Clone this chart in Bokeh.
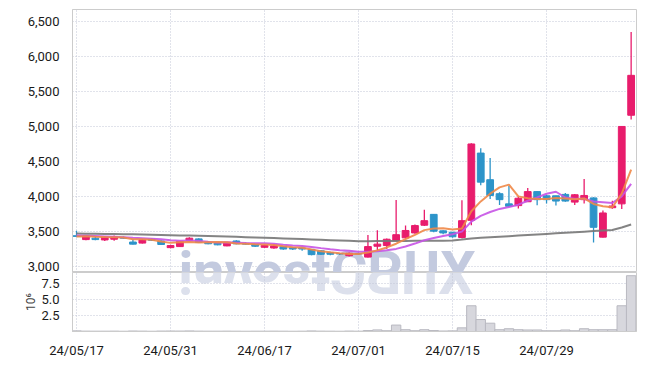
from bokeh.plotting import figure
from bokeh.layouts import column
from bokeh.models import FixedTicker, NumeralTickFormatter, Range1d, Label
from bokeh.core.properties import value
from bokeh.embed import file_html
from bokeh.resources import INLINE
import math

# ---------------- data ----------------
tick_index = [0, 10, 20, 30, 40, 50]
tick_labels = ["24/05/17", "24/05/31", "24/06/17", "24/07/01", "24/07/15", "24/07/29"]

opens = [3440, 3385, 3405, 3380, 3390, 3415, 3350, 3335, 3390, 3365,
         3270, 3285, 3375, 3395, 3345, 3335, 3295, 3365, 3330, 3315,
         3275, 3265, 3285, 3270, 3265, 3245, 3225, 3200, 3185, 3155,
         3185, 3135, 3290, 3300, 3375, 3410, 3480, 3590, 3745, 3510,
         3490, 3415, 3660, 4620, 4240, 4040, 3895, 3870, 3925, 4070,
         4010, 4010, 4030, 3920, 3955, 3980, 3420, 3840, 3895, 5160]
highs = [3510, 3450, 3430, 3435, 3445, 3430, 3385, 3390, 3400, 3375,
         3310, 3365, 3420, 3405, 3360, 3345, 3350, 3375, 3345, 3320,
         3310, 3325, 3290, 3280, 3270, 3250, 3235, 3210, 3195, 3200,
         3200, 3450, 3520, 3400, 3950, 3585, 3600, 3810, 3745, 3520,
         3495, 3945, 4760, 4690, 4550, 4060, 4155, 4000, 4120, 4075,
         4025, 4010, 4050, 4035, 4250, 3990, 3800, 3940, 5000, 6350]
lows = [3420, 3375, 3375, 3365, 3370, 3400, 3315, 3330, 3365, 3310,
        3260, 3280, 3370, 3335, 3320, 3305, 3290, 3320, 3315, 3280,
        3265, 3255, 3240, 3235, 3225, 3160, 3165, 3160, 3165, 3145,
        3170, 3130, 3230, 3250, 3360, 3400, 3470, 3580, 3490, 3460,
        3410, 3400, 3590, 4160, 3965, 3880, 3850, 3830, 3920, 3875,
        3900, 3870, 3925, 3880, 3900, 3345, 3415, 3825, 3820, 5100]
closes = [3430, 3440, 3385, 3420, 3425, 3405, 3320, 3380, 3375, 3315,
          3300, 3360, 3405, 3345, 3325, 3310, 3345, 3325, 3320, 3290,
          3300, 3295, 3250, 3250, 3250, 3170, 3175, 3175, 3180, 3190,
          3180, 3285, 3320, 3390, 3455, 3515, 3585, 3655, 3505, 3480,
          3425, 3655, 4750, 4205, 4015, 3955, 3860, 3975, 4070, 3955,
          3955, 3935, 3935, 4025, 4015, 3560, 3765, 3865, 5000, 5730]

ma_short = [3430, 3432, 3425, 3422, 3420, 3415, 3391, 3390, 3381, 3359,
            3338, 3346, 3351, 3345, 3347, 3349, 3346, 3330, 3325, 3318,
            3316, 3306, 3291, 3277, 3269, 3243, 3219, 3204, 3190, 3178,
            3180, 3202, 3231, 3273, 3326, 3393, 3453, 3520, 3543, 3548,
            3530, 3544, 3790, 3930, 4040, 4130, 4170, 4002, 3975, 3963,
            3963, 3978, 3970, 3961, 3973, 3894, 3860, 3846, 4041, 4384]
ma_mid = [3445, 3440, 3435, 3430, 3425, 3418, 3410, 3404, 3398, 3390,
          3377, 3369, 3371, 3363, 3353, 3344, 3346, 3341, 3335, 3333,
          3333, 3326, 3311, 3301, 3294, 3280, 3263, 3248, 3234, 3224,
          3212, 3211, 3218, 3232, 3252, 3287, 3328, 3376, 3408, 3437,
          3462, 3499, 3642, 3723, 3779, 3823, 3851, 3883, 3939, 3987,
          4040, 4068, 3986, 3968, 3968, 3929, 3919, 3908, 4001, 4179]
ma_long = [3472, 3470, 3468, 3466, 3464, 3462, 3460, 3457, 3454, 3451,
           3448, 3445, 3442, 3439, 3436, 3432, 3428, 3424, 3420, 3416,
           3412, 3407, 3402, 3397, 3392, 3387, 3382, 3377, 3372, 3367,
           3362, 3362, 3363, 3364, 3365, 3366, 3367, 3368, 3369, 3370,
           3372, 3385, 3400, 3410, 3418, 3426, 3434, 3442, 3450, 3458,
           3466, 3474, 3482, 3490, 3498, 3506, 3514, 3522, 3558, 3600]

volume_millions = [0.10, 0.06, 0.05, 0.05, 0.06, 0.04, 0.08, 0.06, 0.04, 0.07,
                   0.08, 0.07, 0.09, 0.06, 0.05, 0.05, 0.06, 0.05, 0.04, 0.05,
                   0.05, 0.06, 0.05, 0.04, 0.05, 0.09, 0.06, 0.05, 0.04, 0.07,
                   0.05, 0.15, 0.25, 0.12, 1.00, 0.28, 0.12, 0.28, 0.15, 0.08,
                   0.10, 0.57, 4.00, 1.86, 1.29, 0.28, 0.43, 0.28, 0.24, 0.24,
                   0.12, 0.12, 0.24, 0.12, 0.43, 0.28, 0.28, 0.28, 4.00, 8.67]

price_ticks = [3000, 3500, 4000, 4500, 5000, 5500, 6000, 6500]
volume_ticks = [2.5, 5.0, 7.5]
watermark = "investCRUX"

# ---------------- styling ----------------
FONT = "Roboto"
UP = "#E81C6C"
DOWN = "#2D94C9"
GRID = "#c3c6d6"
FRAME = "#cccccc"
TXT = "#1a1a1a"

idx = list(range(len(closes)))
colors = [UP if c >= o else DOWN for o, c in zip(opens, closes)]
body_top = [max(o, c) for o, c in zip(opens, closes)]
body_bot = [min(o, c) for o, c in zip(opens, closes)]

xr = Range1d(-0.43, 59.57)
P_LO, P_HI = 2915, 6670
V_HI = 9.17

p = figure(width=637, height=272, x_range=xr, y_range=Range1d(P_LO, P_HI),
           output_backend="svg", toolbar_location=None,
           min_border_left=72, min_border_right=1, min_border_top=9, min_border_bottom=0)
p.xaxis.visible = False
p.outline_line_color = FRAME
p.xgrid.ticker = FixedTicker(ticks=tick_index)
p.yaxis.ticker = FixedTicker(ticks=price_ticks)
p.yaxis.formatter = NumeralTickFormatter(format="0,0")
for g in (p.xgrid, p.ygrid):
    g.grid_line_color = GRID
    g.grid_line_dash = "1 2"
    g.grid_line_width = 1
p.yaxis.axis_line_color = FRAME
p.yaxis.major_tick_line_color = None
p.yaxis.minor_tick_line_color = None
p.yaxis.major_label_standoff = 7
p.yaxis.major_label_text_font = FONT
p.yaxis.major_label_text_font_size = "13px"
p.yaxis.major_label_text_color = TXT

# watermark (behind the candles), its baseline on the panel's lower edge
WM_SIZE = "56px"
wm_x = 10.85
wm = Label(x=wm_x, y=P_LO + 10, x_units="data", y_units="data", text=watermark,
           text_font=FONT, text_font_size=WM_SIZE, text_font_style="bold",
           text_color="#c3cadf", text_align="left", text_baseline="alphabetic",
           level="underlay")
p.add_layout(wm)

# candles
p.segment(x0=idx, y0=lows, x1=idx, y1=highs, line_color=colors, line_width=1.3)
p.vbar(x=idx, width=0.72, top=body_top, bottom=body_bot,
       fill_color=colors, line_color=colors, line_width=1)

# moving averages
p.line(idx, ma_long, line_color="#777777", line_width=2, line_alpha=0.9)
p.line(idx, ma_mid, line_color="#C653E6", line_width=2, line_alpha=0.9)
p.line(idx, ma_short, line_color="#F08848", line_width=2, line_alpha=0.9)

# ---------------- volume panel ----------------
v = figure(width=637, height=88, x_range=xr, y_range=Range1d(0, V_HI),
           output_backend="svg", toolbar_location=None,
           min_border_left=72, min_border_right=1, min_border_top=0, min_border_bottom=22)
v.outline_line_color = FRAME
v.xaxis.ticker = FixedTicker(ticks=tick_index)
v.xaxis.major_label_overrides = {t: lab for t, lab in zip(tick_index, tick_labels)}
v.yaxis.ticker = FixedTicker(ticks=volume_ticks)
v.yaxis.formatter = NumeralTickFormatter(format="0.0")
v.xgrid.ticker = FixedTicker(ticks=tick_index)
for g in (v.xgrid, v.ygrid):
    g.grid_line_color = GRID
    g.grid_line_dash = "1 2"
    g.grid_line_width = 1
for ax in (v.xaxis, v.yaxis):
    ax.axis_line_color = FRAME
    ax.major_tick_line_color = None
    ax.minor_tick_line_color = None
    ax.major_label_text_font = FONT
    ax.major_label_text_color = TXT
v.xaxis.major_label_text_font_size = "13px"
v.xaxis.major_label_standoff = 5
v.yaxis.major_label_text_font_size = "13px"
v.yaxis.major_label_standoff = 7
v.yaxis.axis_label = "10\u2076"
v.yaxis.axis_label_text_font = FONT
v.yaxis.axis_label_text_font_style = "normal"
v.yaxis.axis_label_text_font_size = "12px"
v.yaxis.axis_label_text_color = "#444444"
v.yaxis.axis_label_standoff = 0

# mirrored watermark reflection (each glyph turned upside down)
char_w = {"i": 14.4, "n": 31.1, "v": 27.9, "e": 29.7, "s": 29.0, "t": 18.9,
          "C": 36.6, "R": 35.4, "U": 36.4, "X": 35.5}
right_edges = []
acc = 0.0
for ch in watermark:
    acc += char_w[ch]
    right_edges.append(acc)
v.text(x=[wm_x] * len(watermark), y=[V_HI] * len(watermark), text=list(watermark),
       x_offset=right_edges, angle=math.pi, text_font=value(FONT),
       text_font_size=value(WM_SIZE), text_font_style="bold",
       text_color="#dce0ec", text_alpha=1.0, text_align="left",
       text_baseline="alphabetic", level="underlay")

v.vbar(x=idx, width=1.0, top=volume_millions, bottom=0,
       fill_color="#d7d7dd", line_color="#b9b9c1", line_width=1)

layout = column(p, v)
open("out.html", "w").write(file_html(layout, INLINE))
